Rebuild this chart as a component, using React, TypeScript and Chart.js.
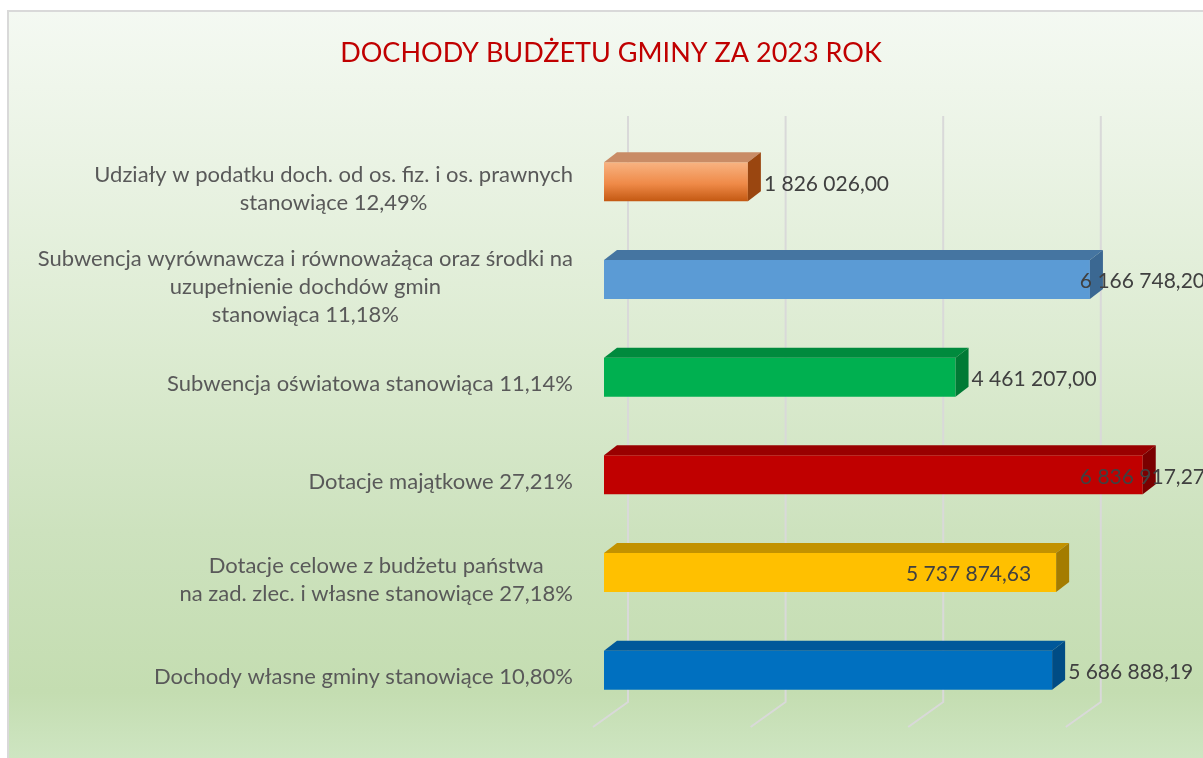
import React, { useEffect, useRef } from "react";
import { Chart, registerables } from "chart.js";

Chart.register(...registerables);

const TITLE = "DOCHODY BUDŻETU GMINY ZA 2023 ROK";

const categories: string[][] = [
  ["Udziały w podatku doch. od os. fiz. i os. prawnych", "stanowiące 12,49%"],
  ["Subwencja wyrównawcza i równoważąca oraz środki na", "uzupełnienie dochdów gmin", "stanowiąca 11,18%"],
  ["Subwencja oświatowa stanowiąca 11,14%"],
  ["Dotacje majątkowe 27,21%"],
  ["Dotacje celowe z budżetu państwa", "na zad. zlec. i własne stanowiące 27,18%"],
  ["Dochody własne gminy stanowiące 10,80%"],
];

const values: number[] = [1826026.0, 6166748.2, 4461207.0, 6836917.27, 5737874.63, 5686888.19];

// where the value label sits: outside the bar end, or inside it
const labelModes: string[] = ["out", "out", "out", "out", "in", "out"];

const gridValues: number[] = [0, 2000000, 4000000, 6000000];

const frontTop: string[] = ["#f8b483", "#5b9bd5", "#00b050", "#c00000", "#ffc000", "#0070c0"];
const frontBottom: string[] = ["#c25710", "#5b9bd5", "#00b050", "#c00000", "#ffc000", "#0070c0"];
const topFace: string[] = ["#c98c66", "#4575a1", "#008a3d", "#990000", "#c29200", "#00589a"];
const sideFace: string[] = ["#9a4610", "#3b6892", "#007a35", "#7a0000", "#a47c00", "#004c85"];

const W = 1204;
const H = 748;
const DX = 13;
const DY = -10;

function fmt(v: number): string {
  const [i, d] = v.toFixed(2).split(".");
  return i.replace(/\B(?=(\d{3})+(?!\d))/g, " ") + "," + d;
}

const FONT = "Lato, 'Open Sans', sans-serif";

const threeD = {
  id: "threeD",
  beforeDatasetsDraw(chart: any) {
    const ctx = chart.ctx;
    const xs = chart.scales.x;
    const { top, bottom } = chart.chartArea;
    ctx.save();
    ctx.strokeStyle = "#d9d9d9";
    ctx.lineWidth = 2;
    ctx.lineJoin = "round";
    for (const v of gridValues) {
      const x = xs.getPixelForValue(v);
      ctx.beginPath();
      ctx.moveTo(x + 24, top - 17);
      ctx.lineTo(x + 24, bottom - 17);
      ctx.lineTo(x - 11, bottom + 8);
      ctx.stroke();
    }
    ctx.restore();
  },
  afterDatasetsDraw(chart: any) {
    const ctx = chart.ctx;
    const meta = chart.getDatasetMeta(0);
    ctx.save();
    meta.data.forEach((el: any, i: number) => {
      const p = el.getProps(["x", "y", "base", "height"], true);
      const l = p.base;
      const r = p.x;
      const t = p.y - p.height / 2;
      const b = p.y + p.height / 2;
      ctx.fillStyle = topFace[i];
      ctx.beginPath();
      ctx.moveTo(l, t);
      ctx.lineTo(l + DX, t + DY);
      ctx.lineTo(r + DX, t + DY);
      ctx.lineTo(r, t);
      ctx.closePath();
      ctx.fill();
      ctx.fillStyle = sideFace[i];
      ctx.beginPath();
      ctx.moveTo(r, t);
      ctx.lineTo(r + DX, t + DY);
      ctx.lineTo(r + DX, b + DY);
      ctx.lineTo(r, b);
      ctx.closePath();
      ctx.fill();
    });
    ctx.restore();
  },
  afterDraw(chart: any) {
    const ctx = chart.ctx;
    const ys = chart.scales.y;
    ctx.save();
    // title
    ctx.font = `27px ${FONT}`;
    ctx.fillStyle = "#c00000";
    ctx.textAlign = "center";
    ctx.textBaseline = "alphabetic";
    ctx.fillText(TITLE, chart.width / 2, 50);

    // category labels
    ctx.font = `22px ${FONT}`;
    ctx.fillStyle = "#595959";
    ctx.textBaseline = "middle";
    ctx.textAlign = "center";
    const lh = 28;
    const blockRight = chart.chartArea.left - 31;
    categories.forEach((lines, i) => {
      const maxW = Math.max(...lines.map((s) => ctx.measureText(s).width));
      const cx = blockRight - maxW / 2;
      const y0 = ys.getPixelForValue(i) + 7 - ((lines.length - 1) * lh) / 2;
      lines.forEach((s, k) => ctx.fillText(s, cx, y0 + k * lh));
    });

    // value labels
    ctx.font = `21px ${FONT}`;
    ctx.fillStyle = "#404040";
    const meta = chart.getDatasetMeta(0);
    const clampRight = chart.width - 8;
    meta.data.forEach((el: any, i: number) => {
      const p = el.getProps(["x", "y"], true);
      const txt = fmt(values[i]);
      const w = ctx.measureText(txt).width;
      const y = p.y + 2;
      if (labelModes[i] === "in") {
        ctx.textAlign = "right";
        ctx.fillText(txt, p.x - 25, y);
      } else {
        ctx.textAlign = "left";
        let x = p.x + DX + 3;
        if (x + w > clampRight) x = clampRight - w;
        ctx.fillText(txt, x, y);
      }
    });
    ctx.restore();
  },
};

export default function App() {
  const ref = useRef<HTMLCanvasElement | null>(null);
  useEffect(() => {
    if (!ref.current) return;
    const chart = new Chart(ref.current, {
      type: "bar",
      data: {
        labels: categories.map((c) => c.join(" ")),
        datasets: [
          {
            data: values,
            backgroundColor: (c: any) => {
              const i = c.dataIndex ?? 0;
              const chart = c.chart;
              if (!chart.chartArea || !chart.scales.y) return frontTop[i];
              const y = chart.scales.y.getPixelForValue(i);
              const g = chart.ctx.createLinearGradient(0, y - 20, 0, y + 20);
              g.addColorStop(0, frontTop[i]);
              g.addColorStop(0.55, frontTop[i] === frontBottom[i] ? frontTop[i] : "#ef8a48");
              g.addColorStop(1, frontBottom[i]);
              return g;
            },
            borderWidth: 0,
            barPercentage: 0.5,
            categoryPercentage: 0.8,
          },
        ],
      },
      options: {
        indexAxis: "y",
        responsive: false,
        animation: false,
        events: [],
        layout: { padding: { left: 595, right: 18, top: 121, bottom: 41 } },
        scales: {
          x: { display: false, min: 0, max: 7500000 },
          y: { display: false },
        },
        plugins: {
          legend: { display: false },
          title: { display: false },
          tooltip: { enabled: false },
        },
      },
      plugins: [threeD],
    } as any);
    return () => chart.destroy();
  }, []);

  return (
    <div style={{ position: "fixed", inset: 0, overflow: "hidden", background: "#ffffff" }}>
      <div
        style={{
          position: "absolute",
          left: 7,
          top: 10,
          width: W + 40,
          height: H + 20,
          borderLeft: "2px solid #d9d9d9",
          borderTop: "2px solid #d9d9d9",
          background:
            "linear-gradient(to bottom, #f4f9f2 0px, #eaf3e4 150px, #dcebd1 340px, #cde2be 520px, #c4ddb1 680px, #d0e7c5 760px)",
        }}
      >
        <canvas ref={ref} width={W} height={H} style={{ display: "block", width: W, height: H }} />
      </div>
    </div>
  );
}
